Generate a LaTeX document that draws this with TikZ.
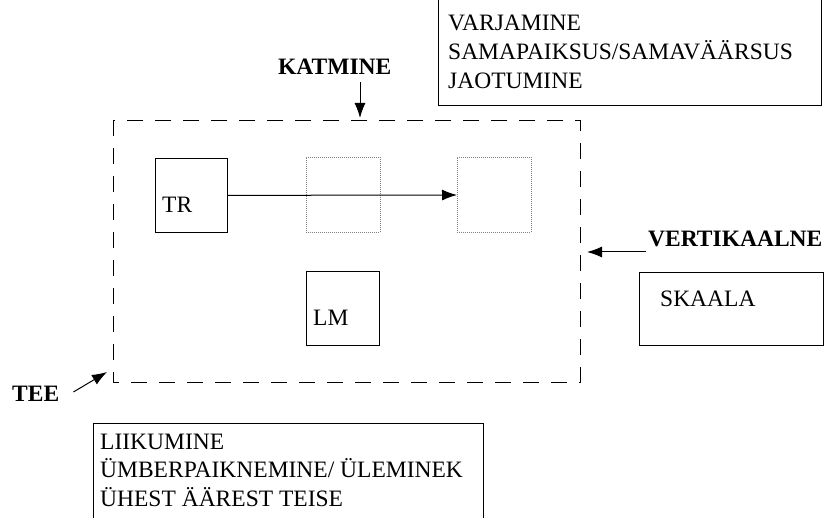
\documentclass[tikz,border=0pt]{standalone}
\usepackage{fontspec}
\setmainfont{Liberation Serif}
\usetikzlibrary{arrows.meta}
\tikzset{
	box/.style={draw, line width=0.9pt, inner sep=0pt, anchor=north west},
	ghost/.style={draw=gray, line width=0.9pt, dash pattern=on 1pt off 1pt, inner sep=0pt, anchor=north west},
	lbl/.style={anchor=base west, inner sep=0pt, align=left},
	pointer/.style={-{Latex[length=15pt,width=11pt]}, line width=1pt},
}
\begin{document}
\begin{tikzpicture}[x=1pt,y=-1pt,font=\fontsize{23.5}{29}\selectfont]
	\useasboundingbox (0,0) rectangle (825,518);
	\draw[line width=0.9pt, dash pattern=on 16pt off 12pt] (113,120) rectangle (580,382);

	% upper text box
	\draw[line width=0.9pt] (438,-5) rectangle (821,105);
	\node[lbl] (upper) at (448,89) {VARJAMINE\\SAMAPAIKSUS/SAMAVÄÄRSUS\\JAOTUMINE};

	% trajector, landmark and the two empty places
	\node[box, minimum width=72pt, minimum height=74pt] (tr) at (155,158) {};
	\node[lbl] at (162,213) {TR};
	\node[ghost, minimum width=74pt, minimum height=75pt] (d1) at (306,157) {};
	\node[ghost, minimum width=74pt, minimum height=75pt] (d2) at (457,157) {};
	\node[box, minimum width=73pt, minimum height=74pt] (lm) at (306,271) {};
	\node[lbl] at (313,326) {LM};
	\draw[pointer] (tr) -- (d2);

	% labels with arrows
	\node[lbl, font=\fontsize{23.5}{29}\selectfont\bfseries] (katmine) at (278,75) {KATMINE};
	\coordinate (katmine tip) at (360,118);
	\draw[pointer] (katmine tip |- 0,82) -- (katmine tip);

	\node[lbl, font=\fontsize{23.5}{29}\selectfont\bfseries] (vert) at (648,247) {VERTIKAALNE};
	\coordinate (vert tip) at (587,252);
	\draw[pointer] (vert.base west |- vert tip) ++(-2,0) -- (vert tip);

	\node[lbl, font=\fontsize{23.5}{29}\selectfont\bfseries] (tee) at (12,402) {TEE};
	\coordinate (tee tip) at (107,372);
	\draw[pointer] (tee.base east) ++(14,-10) -- (tee tip);

	% scale box
	\node[box, minimum width=184pt, minimum height=73pt] (skaala) at (639,272) {};
	\node[lbl] at (660,307) {SKAALA};

	% lower text box
	\draw[line width=0.9pt] (93,423) rectangle (483,525);
	\node[lbl] (lower) at (100,507) {LIIKUMINE\\ÜMBERPAIKNEMINE/ ÜLEMINEK\\ÜHEST ÄÄREST TEISE};
\end{tikzpicture}
\end{document}
